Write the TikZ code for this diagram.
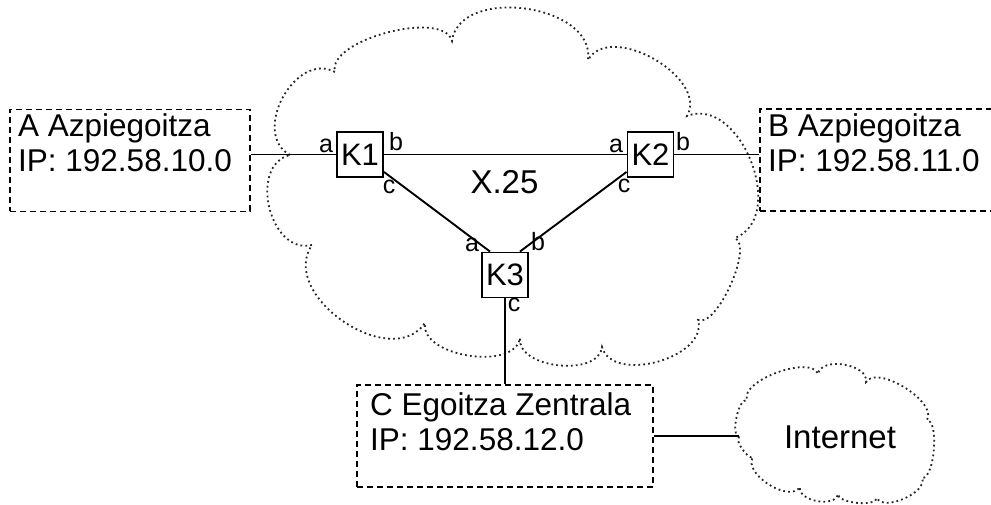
\documentclass[tikz,border=0pt]{standalone}
\usepackage{fontspec}
\setmainfont{Liberation Sans}
\usetikzlibrary{calc}
\begin{document}
\begin{tikzpicture}[x=1pt,y=1pt,
  cloudline/.style={line width=1.8pt, dash pattern=on 1.8pt off 3.1pt, color=black!85},
  link/.style={line width=1.9pt},
  sitebox/.style={draw, line width=1.8pt, dash pattern=on 6pt off 4pt, inner sep=0pt,
                  minimum height=102pt},
  switchbox/.style={draw, line width=1.9pt, fill=white, minimum width=46pt, minimum height=45pt,
                    inner sep=0pt, font=\fontsize{31}{35}\selectfont},
  portlabel/.style={inner sep=0pt, font=\fontsize{25}{29}\selectfont},
  sitetext/.style={anchor=base west, inner sep=0pt, font=\fontsize{31.5}{36}\selectfont},
  bigtext/.style={inner sep=0pt, font=\fontsize{33}{38}\selectfont},
]
\useasboundingbox (0,0) rectangle (991,504);

% X.25 network cloud
\draw[cloudline] (290,349)
  to[bend left=90, looseness=1.22] (335,432)
  to[bend left=90, looseness=0.70] (452,463)
  to[bend left=90, looseness=1.05] (588,444)
  to[bend left=90, looseness=1.00] (687,388)
  to[bend left=90, looseness=1.12] (735,266)
  to[bend left=90, looseness=0.58] (698,184)
  to[bend left=90, looseness=1.00] (602,157)
  to[bend left=90, looseness=0.95] (520,166)
  to[bend left=90, looseness=0.90] (425,181)
  to[bend left=90, looseness=1.12] (312,259)
  to[bend left=90, looseness=1.20] (290,349);

% Internet cloud
\coordinate (inetL) at (739,67);
\draw[cloudline] (inetL)
  to[bend left=90, looseness=0.60] (747,104)
  to[bend left=90, looseness=0.70] (818,130)
  to[bend left=90, looseness=0.95] (866,122)
  to[bend left=90, looseness=0.75] (927,84)
  to[bend left=90, looseness=0.55] (922,26)
  to[bend left=90, looseness=0.80] (877,6)
  to[bend left=90, looseness=0.60] (838,10)
  to[bend left=90, looseness=0.95] (800,17)
  to[bend left=90, looseness=0.90] (753,47)
  to[bend left=90, looseness=0.60] (inetL);
\node[bigtext] (inet) at (840,67) {Internet};

% sites
\node[sitebox, minimum width=240pt] (A) at (130,343.5) {};
\node[sitetext] (A1) at (18,367) {A Azpiegoitza};
\node[sitetext] (A2) at (18,332) {IP: 192.58.10.0};

\node[sitebox, minimum width=240pt] (B) at (880,344) {};
\node[sitetext] (B1) at (768,367) {B Azpiegoitza};
\node[sitetext] (B2) at (768,332) {IP: 192.58.11.0};

\node[sitebox, minimum width=296pt] (C) at (505,68) {};
\node[sitetext] (C1) at (370,89) {C Egoitza Zentrala};
\node[sitetext] (C2) at (370,54) {IP: 192.58.12.0};

% switches
\node[switchbox] (K1) at (360,349.5) {K1};
\node[switchbox] (K2) at (650.5,349.5) {K2};
\node[switchbox] (K3) at (505,229) {K3};

\node[bigtext] (x25) at (504.5,322) {X.25};

% links
\draw[link] (K1.west) -- (K1.west -| A.east);
\draw[link] (K1.east) -- (K2.west);
\draw[link] (K2.east) -- (K2.east -| B.west);
\draw[link] ($(K1.south east)+(0,6)$) -- ($(K3.north west)+(9,0)$);
\draw[link] ($(K2.south west)+(0,6)$) -- ($(K3.north east)+(-9,0)$);
\draw[link] (K3.south) -- (C.north);
\draw[link] (C.east) -- (C.east -| inetL);

% port labels
\node[portlabel] (k1a) at (326,358) {a};
\node[portlabel] (k1b) at (396,362) {b};
\node[portlabel] (k1c) at (389,317) {c};
\node[portlabel] (k2a) at (616,358) {a};
\node[portlabel] (k2b) at (683,362) {b};
\node[portlabel] (k2c) at (624,318) {c};
\node[portlabel] (k3a) at (472,259) {a};
\node[portlabel] (k3b) at (538,262) {b};
\node[portlabel] (k3c) at (514,199) {c};
\end{tikzpicture}
\end{document}
